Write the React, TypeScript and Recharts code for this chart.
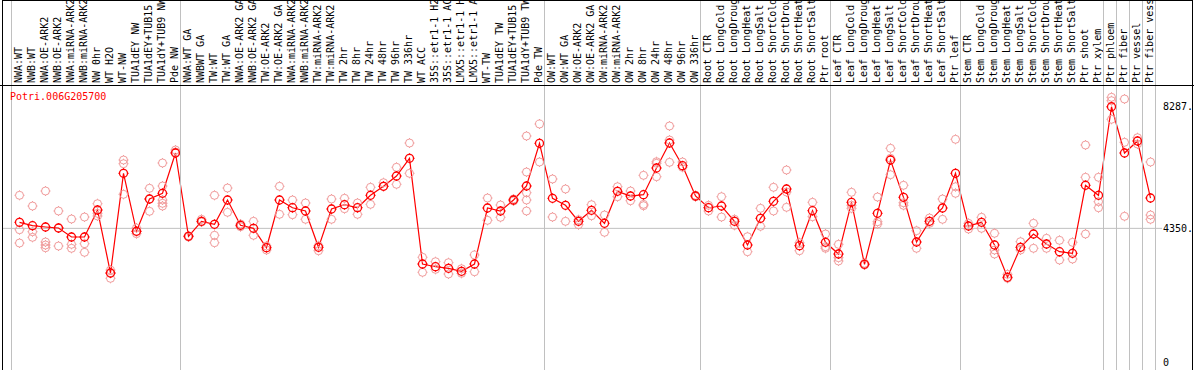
import { ComposedChart, Line, XAxis, YAxis, ReferenceLine } from 'recharts'

const geneId = 'Potri.006G205700'

const categories = [
  'NWA:WT', 'NWB:WT', 'NWA:OE-ARK2', 'NWB:OE-ARK2', 'NWA:miRNA-ARK2', 'NWB:miRNA-ARK2', 'NW 0hr', 'WT H2O', 'WT-NW',
  'TUA1dEY NW', 'TUA1dEY+TUB15 NW', 'TUA1dY+TUB9 NW', 'Pde NW',
  'NWA:WT GA', 'NWBWT GA', 'TW:WT', 'TW:WT GA', 'NWA:OE-ARK2 GA', 'NWB:OE-ARK2 GA', 'TW:OE-ARK2', 'TW:OE-ARK2 GA',
  'NWA:miRNA-ARK2 GA', 'NWB:miRNA-ARK2 GA', 'TW:miRNA-ARK2', 'TW:miRNA-ARK2 GA', 'TW 2hr', 'TW 8hr', 'TW 24hr',
  'TW 48hr', 'TW 96hr', 'TW 336hr', 'WT ACC', '35S::etr1-1 H2O', '35S::etr1-1 ACC', 'LMX5::etr1-1 H2O',
  'LMX5::etr1-1 ACC', 'WT-TW', 'TUA1dEY TW', 'TUA1dEY+TUB15 TW', 'TUA1dY+TUB9 TW', 'Pde TW',
  'OW:WT', 'OW:WT GA', 'OW:OE-ARK2', 'OW:OE-ARK2 GA', 'OW:miRNA-ARK2', 'OW:miRNA-ARK2 GA', 'OW 2hr', 'OW 8hr',
  'OW 24hr', 'OW 48hr', 'OW 96hr', 'OW 336hr',
  'Root CTR', 'Root LongCold', 'Root LongDrought', 'Root LongHeat', 'Root LongSalt', 'Root ShortCold',
  'Root ShortDrought', 'Root ShortHeat', 'Root ShortSalt', 'Ptr root',
  'Leaf CTR', 'Leaf LongCold', 'Leaf LongDrought', 'Leaf LongHeat', 'Leaf LongSalt', 'Leaf ShortCold',
  'Leaf ShortDrought', 'Leaf ShortHeat', 'Leaf ShortSalt', 'Ptr leaf',
  'Stem CTR', 'Stem LongCold', 'Stem LongDrought', 'Stem LongHeat', 'Stem LongSalt', 'Stem ShortCold',
  'Stem ShortDrought', 'Stem ShortHeat', 'Stem ShortSalt', 'Ptr shoot', 'Ptr xylem',
  'Ptr phloem', 'Ptr fiber', 'Ptr vessel', 'Ptr fiber vessel',
]

// number of samples in each block separated by a grey line
const groupSizes = [13, 28, 12, 10, 10, 11, 1, 1, 1, 1]

const meanValues = [
  4546, 4436, 4394, 4361, 4070, 4070, 4944, 2904, 6132, 4254, 5300, 5485, 6789,
  4092, 4578, 4481, 5268, 4449, 4351, 3723, 5268, 5018, 4912, 3736, 4976, 5116, 5018, 5420, 5711, 6045, 6618,
  3196, 3108, 3056, 2959, 3196, 5009, 4912, 5268, 5721, 7104,
  5323, 5096, 4578, 4934, 4513, 5549, 5397, 5439, 6304, 7113, 6378, 5397,
  5018, 5073, 4578, 3811, 4675, 5226, 5624, 3788, 4921, 3898,
  3519, 5193, 3186, 4837, 6563, 5355, 3908, 4578, 5009, 6132,
  4426, 4546, 3811, 2765, 3736, 4167, 3843, 3594, 3542, 5744, 5420,
  8287, 6789, 7178, 5332,
]

const replicates = [
  [5420, 4306, 3875], [5073, 4241, 4060], [5559, 3908, 3811, 3723], [4912, 4361, 3778], [4653, 3833, 3704],
  [4717, 3853, 3574], [5148, 4837, 4750], [3001, 2894, 2733], [6563, 6443, 5452], [4361, 4254, 4177],
  [5647, 5300, 4902], [6466, 5721, 5268, 5161, 5073], [6887, 6822],
  [4110, 4070], [4643, 4555], [5420, 4125, 3885], [5656, 4869], [4491, 4403], [4578, 4125], [3778, 3649],
  [5711, 4805], [5268, 4792], [5171, 4643], [3788, 3626], [5300, 4643], [5323, 4986], [5171, 4805],
  [5679, 5128], [5828, 5711], [6327, 5776], [7113, 6132], [3413, 2927], [3270, 3024], [3238, 2872],
  [3043, 2894], [3487, 2946], [5332, 4610], [5106, 4708], [5300, 5235], [7340, 6174, 5504, 5268, 4912],
  [7728, 6498],
  [5948, 4717], [5624, 4578], [4630, 4468], [5116, 4759], [4782, 4222], [5698, 5375], [5559, 5245],
  [6067, 5128, 5083], [6508, 6456, 6022], [7664, 7210, 6488], [6498, 6327], [5420, 5370],
  [5096, 4912], [5375, 4717], [4643, 4449], [4080, 3594], [4999, 4416], [5679, 4912], [6239, 5527, 5031],
  [3885, 3626], [5193, 4727], [4167, 3756, 3704],
  [3833, 3400, 3293], [5517, 5096, 4999], [3218, 3163], [5365, 4565, 4491], [6942, 6618, 6087],
  [5744, 5180, 5096], [4274, 3704], [4685, 4513], [5300, 4643], [7233, 5698, 5485],
  [4513, 4329], [4708, 4351], [4190, 3649, 3519], [2862, 2733], [3918, 3649], [4513, 3704], [4028, 3704],
  [3963, 3325], [3898, 3357], [7048, 6003, 4167], [6003, 5213, 5018],
  [8593, 8483, 7881], [8538, 7136, 4740], [7285, 7081], [6498, 4782, 4643],
]

const yTicks = [0, 4350, 8287]
const yTickLabels = ['0', '4350.', '8287.']
const medianLine = 4350

const MONO = "'DejaVu Sans Mono', monospace"
const GRID = '#c0c0c0'

const data = categories.map((name, i) => {
  const row: Record<string, any> = { name, idx: i, mean: meanValues[i] }
  replicates[i].forEach((v, j) => {
    row['r' + j] = v
  })
  return row
})

const maxReps = Math.max(...replicates.map((r) => r.length))
const repKeys = Array.from({ length: maxReps }, (_, j) => 'r' + j)

// index of the first sample of every block (and the end of the last one)
const boundaries = groupSizes.reduce((acc, n) => [...acc, acc[acc.length - 1] + n], [0])

const marker = (color: string, width: number) => (props: any) => {
  const { cx, cy, index } = props
  if (cx == null || cy == null || Number.isNaN(cy)) return <g key={index} />
  return (
    <g key={index} stroke={color} strokeWidth={width} fill="none">
      <circle cx={cx} cy={cy} r={4} />
      <path d={`M${cx},${cy - 5}v1M${cx},${cy + 4}v1M${cx - 5},${cy}h1M${cx + 4},${cy}h1`} />
    </g>
  )
}

// rotated sample names in the header, plus the grey separators between blocks
const XTick = (props: any) => {
  const { x, payload, index } = props
  const i = typeof index === 'number' ? index : categories.indexOf(payload.value)
  const lines: number[] = []
  if (boundaries.includes(i)) lines.push(Math.round(x - 8.5) + 0.5)
  if (boundaries.includes(i + 1) && i + 1 === categories.length) lines.push(Math.round(x + 4.5) + 0.5)
  return (
    <g>
      {lines.map((lx) => (
        <line key={lx} x1={lx} y1={0} x2={lx} y2={370} stroke={GRID} strokeWidth={1} />
      ))}
      <text transform={`translate(${x + 2},83) rotate(-90)`} fontSize={10} fontFamily={MONO} fill="#000">
        {String(payload.value).slice(0, 14)}
      </text>
    </g>
  )
}

const YTick = (props: any) => {
  const { y, payload } = props
  const i = yTicks.indexOf(payload.value)
  return (
    <g>
      <rect x={1162} y={y - 6} width={30} height={12} fill="#fff" />
      <text x={1163} y={y + 3.6} fontSize={10} fontFamily={MONO} fill="#000" textAnchor="start">
        {yTickLabels[i]}
      </text>
    </g>
  )
}

export default function App() {
  return (
    <div style={{ position: 'absolute', left: 0, top: 0, width: 1194, height: 370, background: '#fff' }}>
      <ComposedChart width={1194} height={370} data={data} margin={{ top: 0, right: 1, bottom: 0, left: 2 }}>
        <XAxis
          xAxisId="cat"
          dataKey="name"
          orientation="top"
          height={1}
          interval={0}
          padding={{ left: 17.5, right: 41.5 }}
          axisLine={false}
          tickLine={false}
          tick={XTick}
        />
        <YAxis
          orientation="right"
          width={1}
          domain={[-236, 11711]}
          allowDataOverflow
          ticks={yTicks}
          interval={0}
          axisLine={false}
          tickLine={false}
          tick={YTick}
        />
        <ReferenceLine xAxisId="cat" y={medianLine} stroke={GRID} />
        {repKeys.map((k) => (
          <Line
            key={k}
            xAxisId="cat"
            dataKey={k}
            stroke="none"
            dot={marker('#f09a9a', 1)}
            activeDot={false}
            isAnimationActive={false}
          />
        ))}
        <Line
          xAxisId="cat"
          dataKey="mean"
          stroke="#ff0000"
          strokeWidth={1.2}
          dot={marker('#ff0000', 1.3)}
          activeDot={false}
          isAnimationActive={false}
        />
      </ComposedChart>
      <svg
        width={1194}
        height={370}
        style={{ position: 'absolute', left: 0, top: 0, pointerEvents: 'none' }}
      >
        <g stroke="#000" strokeWidth={1} shapeRendering="crispEdges">
          <line x1={2.5} y1={0} x2={2.5} y2={370} />
          <line x1={1192.5} y1={0} x2={1192.5} y2={370} />
          <line x1={2} y1={0.5} x2={1193} y2={0.5} />
          <line x1={0} y1={85.5} x2={1194} y2={85.5} />
        </g>
        <text x={10} y={99.5} fontSize={10} fontFamily={MONO} fill="#ff0000">
          {geneId}
        </text>
      </svg>
    </div>
  )
}
